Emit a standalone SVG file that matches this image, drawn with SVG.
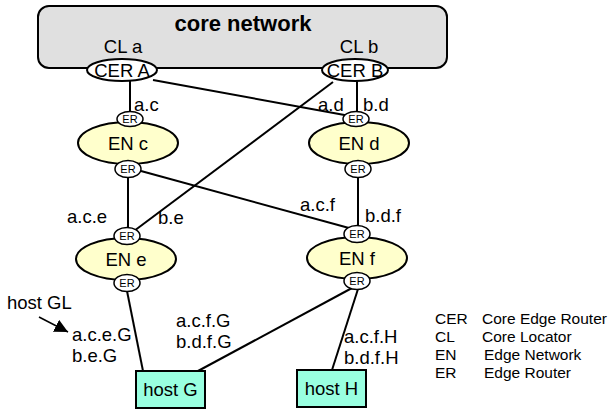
<svg xmlns="http://www.w3.org/2000/svg" width="611" height="412" viewBox="0 0 611 412">
<defs>
<marker id="ah" viewBox="0 0 10 10" refX="10" refY="5" markerWidth="9" markerHeight="9" markerUnits="strokeWidth" orient="auto">
<path d="M0,0 L10,5 L0,10 z" fill="#000"/>
</marker>
<style>
text{font-family:"Liberation Sans",Arial,sans-serif;fill:#000}
.lbl{font-size:18.5px}
.node{font-size:18.5px;text-anchor:middle}
.er{font-size:11px;text-anchor:middle}
.leg{font-size:15.5px}
.cer{fill:#fff;stroke:#000;stroke-width:2}
.en{fill:#ffffcc;stroke:#000;stroke-width:2}
.erE{fill:#fff;stroke:#000;stroke-width:1.5}
.host{fill:#99ffe0;stroke:#000;stroke-width:2}
.ln{stroke:#000;stroke-width:2;fill:none}
</style>
</defs>
<rect width="611" height="412" fill="#fff"/>
<g id="core">
<rect x="38" y="6" width="409" height="62" rx="11" fill="#e0e0e0" stroke="#000" stroke-width="2"/>
<text x="243" y="31" style="font-size:22px;font-weight:bold" text-anchor="middle">core network</text>
<text x="123" y="53" class="node">CL a</text>
<text x="359" y="53" class="node">CL b</text>
</g>
<g id="connectors">
<line class="ln" x1="130" y1="80" x2="130" y2="112"/>
<line class="ln" x1="153" y1="80" x2="350" y2="116"/>
<line class="ln" x1="357" y1="80" x2="357" y2="112"/>
<line class="ln" x1="333" y1="82" x2="134" y2="231"/>
<line class="ln" x1="141" y1="171" x2="349" y2="228"/>
<line class="ln" x1="128" y1="177" x2="128" y2="228"/>
<line class="ln" x1="358" y1="177" x2="358" y2="226"/>
<line class="ln" x1="127" y1="291" x2="143" y2="371"/>
<line class="ln" x1="352" y1="288" x2="198" y2="371"/>
<line class="ln" x1="358" y1="289" x2="332" y2="370"/>
<line x1="39" y1="317" x2="68" y2="332" stroke="#000" stroke-width="1.5" marker-end="url(#ah)"/>
</g>
<g id="cerA"><ellipse class="cer" cx="122" cy="70" rx="35" ry="11"/><text x="122" y="77" class="node">CER A</text></g>
<g id="cerB"><ellipse class="cer" cx="355" cy="70" rx="33" ry="11"/><text x="355" y="77" class="node">CER B</text></g>
<g id="enC">
<ellipse class="en" cx="128" cy="143" rx="50" ry="21"/>
<text x="128" y="150" class="node">EN c</text>
<ellipse class="erE" cx="130" cy="119" rx="13" ry="7.5"/><text x="130" y="123" class="er">ER</text>
<ellipse class="erE" cx="128" cy="169" rx="13" ry="8.5"/><text x="128" y="173" class="er">ER</text>
</g>
<g id="enD">
<ellipse class="en" cx="359" cy="143" rx="50" ry="21"/>
<text x="359" y="150" class="node">EN d</text>
<ellipse class="erE" cx="356" cy="119" rx="13" ry="7.5"/><text x="356" y="123" class="er">ER</text>
<ellipse class="erE" cx="358" cy="169" rx="13" ry="8.5"/><text x="358" y="173" class="er">ER</text>
</g>
<g id="enE">
<ellipse class="en" cx="126" cy="259" rx="50" ry="21"/>
<text x="126" y="266" class="node">EN e</text>
<ellipse class="erE" cx="127" cy="236" rx="13" ry="8.5"/><text x="127" y="240" class="er">ER</text>
<ellipse class="erE" cx="127" cy="283" rx="13" ry="8.5"/><text x="127" y="287" class="er">ER</text>
</g>
<g id="enF">
<ellipse class="en" cx="357" cy="258" rx="50" ry="21"/>
<text x="357" y="265" class="node">EN f</text>
<ellipse class="erE" cx="357" cy="234" rx="13" ry="8.5"/><text x="357" y="238" class="er">ER</text>
<ellipse class="erE" cx="357" cy="281" rx="13" ry="8.5"/><text x="357" y="285" class="er">ER</text>
</g>
<g id="hostG"><rect class="host" x="136" y="371" width="69" height="37"/><text x="170.5" y="396" class="node">host G</text></g>
<g id="hostH"><rect class="host" x="297" y="370" width="69" height="37"/><text x="331.5" y="395" class="node">host H</text></g>
<g id="labels">
<text x="134" y="111" class="lbl">a.c</text>
<text x="318" y="111" class="lbl">a.d</text>
<text x="363" y="111" class="lbl">b.d</text>
<text x="67" y="223" class="lbl">a.c.e</text>
<text x="158" y="224" class="lbl">b.e</text>
<text x="300" y="211" class="lbl">a.c.f</text>
<text x="365" y="222" class="lbl">b.d.f</text>
<text x="7" y="309" class="lbl">host GL</text>
<text x="72" y="341" class="lbl">a.c.e.G</text>
<text x="72" y="362" class="lbl">b.e.G</text>
<text x="176" y="327" class="lbl">a.c.f.G</text>
<text x="176" y="348" class="lbl">b.d.f.G</text>
<text x="344" y="343" class="lbl">a.c.f.H</text>
<text x="344" y="364" class="lbl">b.d.f.H</text>
</g>
<g id="legend">
<text x="435" y="324" class="leg">CER</text><text x="482" y="324" class="leg">Core Edge Router</text>
<text x="435" y="342" class="leg">CL</text><text x="482" y="342" class="leg">Core Locator</text>
<text x="435" y="360" class="leg">EN</text><text x="484" y="360" class="leg">Edge Network</text>
<text x="435" y="378" class="leg">ER</text><text x="484" y="378" class="leg">Edge Router</text>
</g>
</svg>
